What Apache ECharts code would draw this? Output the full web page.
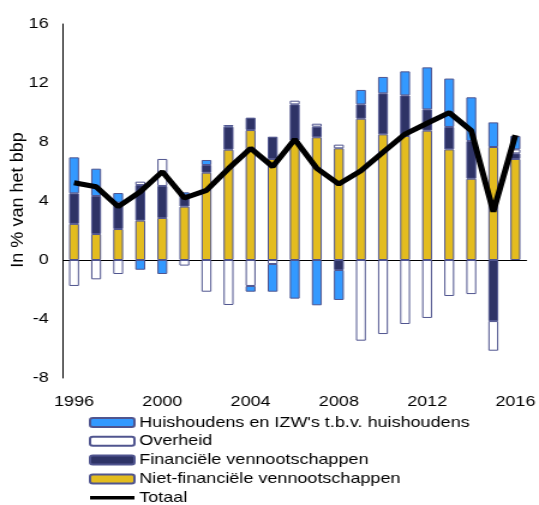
<!DOCTYPE html>
<html>
<head>
<meta charset="utf-8">
<script src="https://cdn.jsdelivr.net/npm/echarts@6/dist/echarts.min.js"></script>
<style>
html,body{margin:0;padding:0;background:#fff;overflow:hidden;}
#wrap{width:539px;height:505px;overflow:hidden;}
#c{width:449px;height:505px;transform:scaleX(1.2004);transform-origin:0 0;}
</style>
</head>
<body>
<div id="wrap"><div id="c"></div></div>
<script>
const years = ['1996','1997','1998','1999','2000','2001','2002','2003','2004','2005','2006','2007','2008','2009','2010','2011','2012','2013','2014','2015','2016'];
const yTicks = [-8,-4,0,4,8,12,16];
const nietFin = [2.45,1.76,2.10,2.67,2.85,3.62,5.92,7.48,8.81,6.85,8.10,8.32,7.57,9.58,8.52,8.41,8.77,7.50,5.51,7.66,6.85];
const fin = [2.07,2.58,1.79,2.41,2.17,0.79,0.52,1.56,0.84,1.51,2.45,0.72,-0.68,0.97,2.78,2.75,1.44,1.52,2.56,-4.14,0.38];
const overheid = [-1.76,-1.31,-0.95,0.23,1.83,-0.38,-2.15,-3.05,-1.76,-0.27,0.25,0.20,0.25,-5.47,-5.02,-4.34,-3.93,-2.44,-2.31,-2.01,0.27];
const huish = [2.44,1.85,0.65,-0.66,-0.95,0.18,0.34,0.11,-0.39,-1.88,-2.62,-3.07,-2.03,0.98,1.11,1.63,2.85,3.28,2.96,1.67,0.91];
const totaal = [5.24,4.97,3.62,4.63,5.99,4.20,4.72,6.20,7.57,6.33,8.18,6.21,5.15,6.05,7.30,8.54,9.27,9.99,8.77,3.28,8.47];
const names = {
  huish: "Huishoudens en IZW's t.b.v. huishoudens",
  overheid: 'Overheid',
  fin: 'Financiële vennootschappen',
  nietFin: 'Niet-financiële vennootschappen',
  totaal: 'Totaal'
};

const FONT = 'Liberation Sans, Arial, sans-serif';
const border = '#50558f';
function barSeries(name, data, color) {
  return {
    name: name, type: 'bar', stack: 'tot', data: data,
    xAxisIndex: 0, yAxisIndex: 0,
    barWidth: '45%',
    itemStyle: { color: color, borderColor: border, borderWidth: 1 },
    emphasis: { disabled: true }
  };
}
const chart = echarts.init(document.getElementById('c'), null, { renderer: 'canvas' });
chart.setOption({
  animation: false,
  backgroundColor: '#fff',
  grid: { left: 52.5, right: 9, top: 24, bottom: 127, containLabel: false },
  xAxis: [
    {
      type: 'category', data: years, boundaryGap: true,
      axisLine: { onZero: true, lineStyle: { color: '#000', width: 1 } },
      axisTick: { show: false }, axisLabel: { show: false }, splitLine: { show: false }
    },
    {
      type: 'category', data: years, boundaryGap: true, position: 'bottom',
      axisLine: { show: false }, axisTick: { show: false }, splitLine: { show: false },
      axisLabel: { show: true, interval: 3, color: '#000', fontFamily: FONT, fontSize: 15, margin: 16 }
    }
  ],
  yAxis: {
    type: 'value', min: -8, max: 16, interval: 4,
    axisLine: { show: true, lineStyle: { color: '#000', width: 1 } },
    axisTick: { show: false }, splitLine: { show: false },
    axisLabel: { color: '#000', fontFamily: FONT, fontSize: 15, margin: 12,
      formatter: function (v) { return yTicks.indexOf(v) >= 0 ? String(v) : ''; } }
  },
  legend: {
    orient: 'vertical', left: 74, top: 415, height: 120, padding: 0,
    itemWidth: 37, itemHeight: 9, itemGap: 3.8,
    textStyle: { color: '#000', fontFamily: FONT, fontSize: 15, lineHeight: 15, padding: [0, 0, 0, -1] },
    data: [names.huish, names.overheid, names.fin, names.nietFin,
      { name: names.totaal, icon: 'path://M0,0L0,0M0,2.7L37,2.7L37,6.3L0,6.3ZM37,9L37,9',
        itemStyle: { color: '#000', borderWidth: 0 } }],
    selectedMode: false
  },
  graphic: [{
    type: 'text', x: 15, y: 200, rotation: Math.PI / 2, scaleX: 1.29, scaleY: 1,
    style: { text: 'In % van het bbp', fill: '#000', font: '14px ' + FONT, align: 'center', verticalAlign: 'middle' }
  }],
  series: [
    barSeries(names.nietFin, nietFin, '#e3bc1f'),
    barSeries(names.fin, fin, '#2e3366'),
    barSeries(names.overheid, overheid, '#ffffff'),
    barSeries(names.huish, huish, '#3399ff'),
    {
      name: names.totaal, type: 'line', data: totaal, xAxisIndex: 0, yAxisIndex: 0,
      symbol: 'none', showSymbol: false, z: 10,
      lineStyle: { color: '#000', width: 5 },
      itemStyle: { color: '#000' },
      emphasis: { disabled: true }
    }
  ]
});
</script>
</body>
</html>
